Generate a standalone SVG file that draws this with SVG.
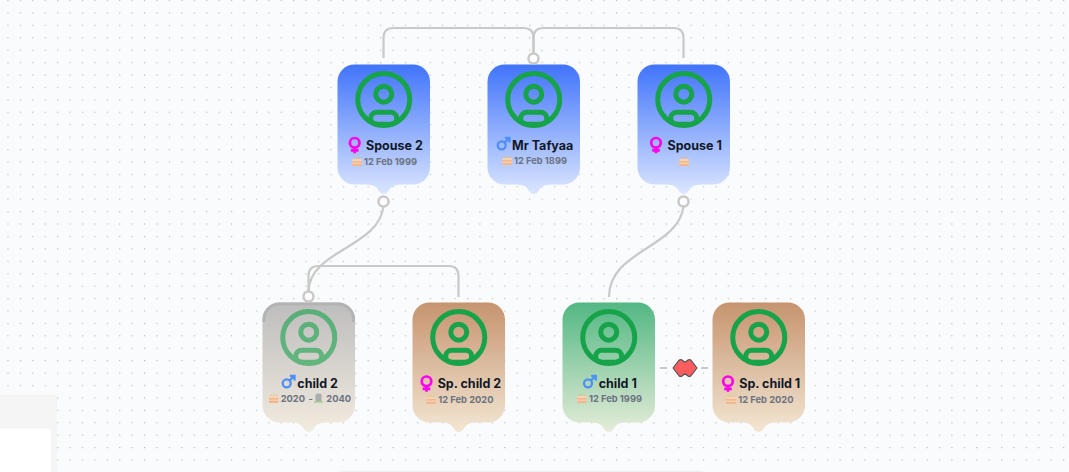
<svg xmlns="http://www.w3.org/2000/svg" width="1069" height="472" viewBox="0 0 1069 472">
<style>
.name{font-family:Inter,"Liberation Sans",sans-serif;font-size:12.500px;font-weight:700;fill:#111827}
.date{font-family:Inter,"Liberation Sans",sans-serif;font-size:9.300px;font-weight:700;fill:#6b7280}
.conn{fill:none;stroke:#c9c9c9;stroke-width:2.200}
.ring{fill:#fff;stroke:#c9c9c9;stroke-width:2.500}
.av{fill:none;stroke:#16a34a;stroke-width:5}
.f{fill:none;stroke:#ff00ee;stroke-width:2.700}
.m{fill:none;stroke:#4e8ff7;stroke-width:2.300}
</style>
<defs>
<pattern id="dots" x="7.400" y="-0.100" width="12.420" height="12.420" patternUnits="userSpaceOnUse"><rect width="1.200" height="1.200" fill="#bcbcbc"/></pattern>
<linearGradient id="blue" x1="0" y1="0" x2="0" y2="1"><stop offset="0" stop-color="#4174fb"/><stop offset="1" stop-color="#dbe6ff"/></linearGradient>
<linearGradient id="brown" x1="0" y1="0" x2="0" y2="1"><stop offset="0" stop-color="#c6946f"/><stop offset="1" stop-color="#f3e6d3"/></linearGradient>
<linearGradient id="green" x1="0" y1="0" x2="0" y2="1"><stop offset="0" stop-color="#52b783"/><stop offset="1" stop-color="#e6ecd9"/></linearGradient>
<linearGradient id="grey" x1="0" y1="0" x2="0" y2="1"><stop offset="0" stop-color="#bdbdbd"/><stop offset="1" stop-color="#f2ebdf"/></linearGradient>
<path id="card" d="M17 0H75.500A17 17 0 0 1 92.500 17V103A17 17 0 0 1 75.500 120H64C55 120 53 123 50.300 127.500A5 5 0 0 1 42.200 127.500C39.500 123 37.500 120 28.500 120H17A17 17 0 0 1 0 103V17A17 17 0 0 1 17 0Z"/>
<g id="avatar">
<circle class="av" cx="46.250" cy="35" r="26"/>
<circle class="av" cx="46.250" cy="29.700" r="8"/>
<rect class="av" x="33.200" y="47.700" width="26" height="12" rx="6"/>
</g>
<g id="female"><circle class="f" cx="6" cy="6.300" r="4.800"/><path class="f" d="M6 11V16.800M2.200 13.800H9.800"/></g>
<g id="male"><circle class="m" cx="5" cy="8" r="4"/><path class="m" d="M8 5L12.800 .4M8.200 .6H12.800V5.200"/></g>
<g id="cake">
<rect x="0" y="2.500" width="9.500" height="7" fill="#f2b78c"/>
<rect x="0" y="2.500" width="9.500" height="2" fill="#f6d3b4"/>
<rect x="0" y="6.200" width="9.500" height=".9" fill="#f8dcc4"/>
<path d="M2 2.500V.6M4.700 2.500V.2M7.400 2.500V.6" stroke="#e2bd7c" stroke-width=".9"/>
</g>
<g id="grave">
<path d="M1.500 8V1.800Q1.500 0 4.500 0Q7.500 0 7.500 1.800V8Z" fill="#a9adab"/>
<rect x="0" y="8" width="9" height="1" fill="#84c96b"/>
</g>
</defs>

<rect width="1069" height="472" fill="#fafbfd"/>
<rect width="1069" height="472" fill="url(#dots)"/>
<rect x="0" y="395" width="57" height="77" fill="#f5f5f5"/>
<rect x="0" y="429" width="51" height="43" fill="#fff"/>
<rect x="340" y="470.500" width="362" height="2" rx="1" fill="#f1f1f3"/>

<g id="connectors">
<path class="conn" d="M383.500 58V38Q383.500 28 393.500 28H523.500Q533.500 28 533.500 38V54"/>
<path class="conn" d="M683.500 58V38Q683.500 28 673.500 28H543.500Q533.500 28 533.500 38V54"/>
<path class="conn" d="M458.500 297V276Q458.500 266 448.500 266H318.500Q308.500 266 308.500 276V292"/>
<path class="conn" d="M383.500 206C379 248 308.500 250 308.500 292"/>
<path class="conn" d="M683.500 206C679 248 609 250 609 297"/>
<path class="conn" d="M660 368H667M701 368H708"/>
</g>

<g id="spouse2">
<use href="#card" x="337.500" y="64.500" fill="url(#blue)"/>
<use href="#avatar" x="337.500" y="64.500"/>
<use href="#female" x="348.700" y="136.500"/>
<text class="name" x="366" y="150">Spouse 2</text>
<use href="#cake" x="352.300" y="156.500"/>
<text class="date" x="364" y="164.800">12 Feb 1999</text>
</g>
<g id="mr-tafyaa">
<use href="#card" x="487.500" y="64.500" fill="url(#blue)"/>
<use href="#avatar" x="487.500" y="64.500"/>
<use href="#male" x="496.700" y="137.300"/>
<text class="name" x="512" y="149.500">Mr Tafyaa</text>
<use href="#cake" x="502.300" y="155.500"/>
<text class="date" x="514" y="163.800">12 Feb 1899</text>
</g>
<g id="spouse1">
<use href="#card" x="637.500" y="64.500" fill="url(#blue)"/>
<use href="#avatar" x="637.500" y="64.500"/>
<use href="#female" x="650" y="136.500"/>
<text class="name" x="667.500" y="150">Spouse 1</text>
<use href="#cake" x="679.300" y="156.500"/>
</g>
<g id="child2">
<use href="#card" x="262.500" y="302.500" fill="url(#grey)"/>
<path d="M264 322V319A15.500 15.500 0 0 1 279.500 304H338A15.500 15.500 0 0 1 353.500 319V322" fill="none" stroke="#b3b3b3" stroke-width="3"/>
<use href="#avatar" x="262.500" y="302.500" opacity=".6"/>
<use href="#male" x="281.700" y="375.300"/>
<text class="name" x="297.300" y="387.500">child 2</text>
<use href="#cake" x="269" y="393.500"/>
<text class="date" x="280.700" y="402">2020</text>
<text class="date" x="308.500" y="402">-</text>
<use href="#grave" x="314" y="393.500"/>
<text class="date" x="326.300" y="402">2040</text>
</g>
<g id="sp-child2">
<use href="#card" x="412.500" y="302.500" fill="url(#brown)"/>
<use href="#avatar" x="412.500" y="302.500"/>
<use href="#female" x="420.500" y="375"/>
<text class="name" x="437.700" y="388">Sp. child 2</text>
<use href="#cake" x="426.300" y="394.500"/>
<text class="date" x="438.300" y="403">12 Feb 2020</text>
</g>
<g id="child1">
<use href="#card" x="562.500" y="302.500" fill="url(#green)"/>
<use href="#avatar" x="562.500" y="302.500"/>
<use href="#male" x="583" y="375.300"/>
<text class="name" x="598.700" y="387.500">child 1</text>
<use href="#cake" x="577" y="393.500"/>
<text class="date" x="589" y="402">12 Feb 1999</text>
</g>
<g id="sp-child1">
<use href="#card" x="712.500" y="302.500" fill="url(#brown)"/>
<use href="#avatar" x="712.500" y="302.500"/>
<use href="#female" x="722" y="375"/>
<text class="name" x="739.300" y="388">Sp. child 1</text>
<use href="#cake" x="726.300" y="394.500"/>
<text class="date" x="738.300" y="403">12 Feb 2020</text>
</g>

<g id="rings">
<circle class="ring" cx="533.500" cy="58.500" r="5"/>
<circle class="ring" cx="383.500" cy="201.500" r="5"/>
<circle class="ring" cx="683.500" cy="201.500" r="5"/>
<circle class="ring" cx="308.500" cy="296.500" r="5"/>
</g>
<g id="marriage">
<path d="M673 368L679 360.300Q680.500 359 682 360L685 362.300L688 360Q689.500 359 691 360.300L697 368L691 375.700Q689.500 377 688 376L685 373.700L682 376Q680.500 377 679 375.700Z" fill="#ff5c60" stroke="#555" stroke-width="1.200" stroke-linejoin="round"/>
</g>
</svg>
